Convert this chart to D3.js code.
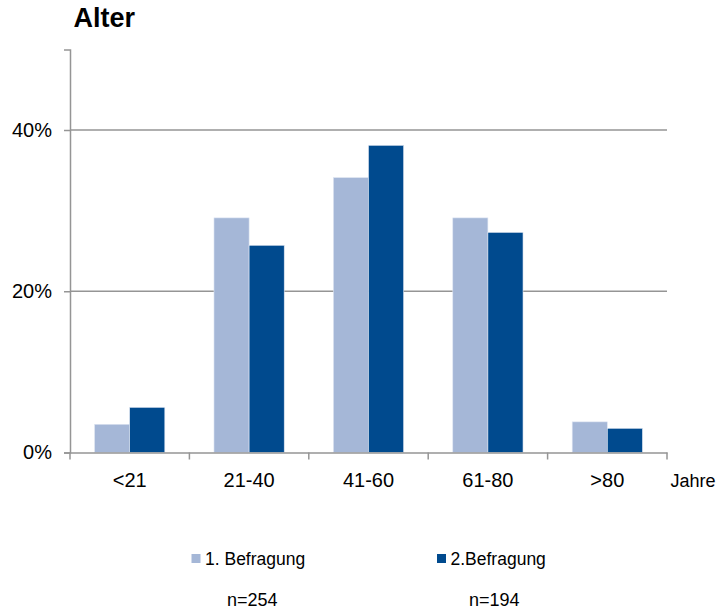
<!DOCTYPE html>
<html>
<head>
<meta charset="utf-8">
<script src="https://cdn.jsdelivr.net/npm/d3@7"></script>
<style>
  html, body { margin: 0; padding: 0; background: #fff; }
  svg { display: block; font-family: "Liberation Sans", Arial, sans-serif; }
</style>
</head>
<body>
<svg id="chart" width="719" height="611"></svg>
<script>
// Age groups and shares (%) for both survey rounds
const categories = ["<21", "21-40", "41-60", "61-80", ">80"];
const survey1 = [3.5, 29.1, 34.1, 29.1, 3.8];
const survey2 = [5.6, 25.7, 38.1, 27.3, 3.0];
const seriesNames = ["1. Befragung", "2.Befragung"];
const sampleSizes = ["n=254", "n=194"];
const yTicks = [0, 20, 40];

const colors = ["#A5B7D7", "#004A8E"];
const FONT = "Liberation Sans, Arial, sans-serif";

const svg = d3.select("#chart");
const plotLeft = 70, plotRight = 667, plotBottom = 452.5;

const x = d3.scaleBand().domain(categories).range([plotLeft, plotRight]).paddingInner(0).paddingOuter(0);
const y = d3.scaleLinear().domain([0, 50]).range([plotBottom, plotBottom - 50 * (322.5 / 40)]);

// Title
svg.append("text")
  .attr("x", 73.5).attr("y", 27)
  .attr("font-size", 27).attr("font-weight", "bold").attr("fill", "#000")
  .text("Alter");

// Horizontal gridlines
svg.append("g")
  .selectAll("line")
  .data(yTicks.filter(d => d > 0))
  .join("line")
  .attr("x1", plotLeft).attr("x2", plotRight)
  .attr("y1", d => y(d)).attr("y2", d => y(d))
  .attr("stroke", "#959595").attr("stroke-width", 1.5);

// Y axis
const yAxis = svg.append("g")
  .attr("transform", `translate(${plotLeft},0)`)
  .call(d3.axisLeft(y).tickValues(yTicks).tickSize(6).tickPadding(12).tickFormat(d => d + "%"));
yAxis.select(".domain").attr("stroke", "#959595").attr("stroke-width", 1.5);
yAxis.selectAll(".tick line").attr("stroke", "#959595").attr("stroke-width", 1.5);
yAxis.selectAll(".tick text")
  .attr("font-size", 20).attr("fill", "#000").attr("font-family", FONT);

// Bars
const inner = d3.scaleBand().domain([0, 1]).range([0, x.bandwidth()]).paddingInner(0).paddingOuter(0.7);
const rows = categories.map((c, i) => ({ cat: c, vals: [survey1[i], survey2[i]] }));
const groups = svg.append("g").selectAll("g")
  .data(rows)
  .join("g")
  .attr("transform", d => `translate(${x(d.cat)},0)`);
groups.selectAll("rect")
  .data(d => d.vals.map((v, k) => ({ v, k })))
  .join("rect")
  .attr("x", d => inner(d.k))
  .attr("width", inner.bandwidth())
  .attr("y", d => y(d.v))
  .attr("height", d => plotBottom - y(d.v))
  .attr("fill", d => colors[d.k])
  .attr("stroke", "#dfe6f2").attr("stroke-width", 0.6);

// X axis
const xAxis = svg.append("g")
  .attr("transform", `translate(0,${plotBottom})`)
  .call(d3.axisBottom(x).tickSize(0).tickPadding(20));
xAxis.select(".domain").attr("stroke", "#959595").attr("stroke-width", 1.5);
xAxis.selectAll(".tick text")
  .attr("font-size", 20).attr("fill", "#000").attr("font-family", FONT);
// Tick marks between categories
const bounds = categories.map(c => x(c)).concat([x(categories[categories.length - 1]) + x.bandwidth()]);
xAxis.selectAll("line.sep")
  .data(bounds)
  .join("line")
  .attr("class", "sep")
  .attr("x1", d => d).attr("x2", d => d)
  .attr("y1", 0).attr("y2", 7)
  .attr("stroke", "#959595").attr("stroke-width", 1.5);

// Axis unit label
svg.append("text")
  .attr("x", 670.5).attr("y", 486.5)
  .attr("font-size", 18).attr("fill", "#000")
  .text("Jahre");

// Legend
const legendX = [191.5, 437];
const legend = svg.append("g").selectAll("g")
  .data(seriesNames)
  .join("g")
  .attr("transform", (d, i) => `translate(${legendX[i]},0)`);
legend.append("rect")
  .attr("x", 0).attr("y", 554)
  .attr("width", 9).attr("height", 9)
  .attr("fill", (d, i) => colors[i]);
legend.append("text")
  .attr("x", 13.5).attr("y", 565)
  .attr("font-size", 17.5).attr("fill", "#000")
  .text(d => d);

// Sample sizes
svg.append("g").selectAll("text")
  .data(sampleSizes)
  .join("text")
  .attr("x", (d, i) => [227, 469][i]).attr("y", 606)
  .attr("font-size", 18).attr("fill", "#000")
  .text(d => d);
</script>
</body>
</html>
